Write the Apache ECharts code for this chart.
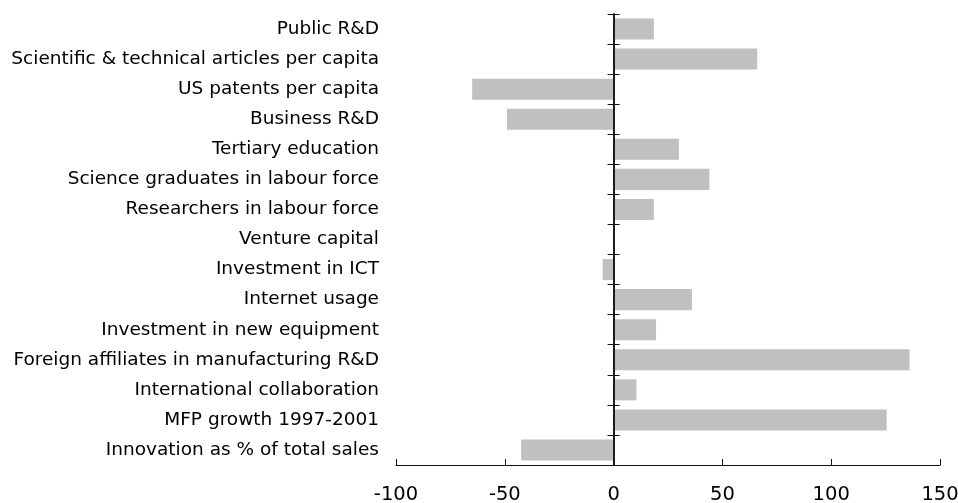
<!DOCTYPE html>
<html>
<head>
<meta charset="utf-8">
<script src="https://cdn.jsdelivr.net/npm/echarts@6/dist/echarts.min.js"></script>
<style>
  html, body { margin: 0; padding: 0; background: #fff; }
  #chart { width: 958px; height: 503px; }
</style>
</head>
<body>
<div id="chart"></div>
<script>
// indicators, top to bottom
var categories = [
  "Public R&D",
  "Scientific & technical articles per capita",
  "US patents per capita",
  "Business R&D",
  "Tertiary education",
  "Science graduates in labour force",
  "Researchers in labour force",
  "Venture capital",
  "Investment in ICT",
  "Internet usage",
  "Investment in new equipment",
  "Foreign affiliates in manufacturing R&D",
  "International collaboration",
  "MFP growth 1997-2001",
  "Innovation as % of total sales"
];
var values = [18.5, 66, -65, -49, 30, 44, 18.5, 0, -5, 36, 19.5, 136, 10.5, 125.5, -42.5];
var xTicks = [-100, -50, 0, 50, 100, 150];

var font = "DejaVu Sans";
var axisColor = "#111";
var gridBox = { left: 396, right: 18, top: 14, bottom: 38, outerBoundsMode: "none" };

var chart = echarts.init(document.getElementById("chart"));
chart.setOption({
  animation: false,
  // second grid is only there to put right-pointing ticks on the zero line
  grid: [
    Object.assign({}, gridBox),
    Object.assign({}, gridBox)
  ],
  xAxis: [
    {
      type: "value",
      gridIndex: 0,
      min: xTicks[0],
      max: xTicks[xTicks.length - 1],
      interval: 50,
      splitLine: { show: false },
      axisLine: { show: true, onZero: false, lineStyle: { color: axisColor, width: 1 } },
      axisTick: { show: true, inside: true, length: 6, lineStyle: { color: axisColor } },
      axisLabel: { color: "#000", fontSize: 19.5, fontFamily: font, margin: 20 }
    },
    {
      type: "value",
      gridIndex: 1,
      min: xTicks[0],
      max: xTicks[xTicks.length - 1],
      interval: 50,
      show: false
    }
  ],
  yAxis: [
    {
      type: "category",
      gridIndex: 0,
      z: 5,
      data: categories,
      inverse: true,
      position: "left",
      axisLine: { show: true, onZero: true, lineStyle: { color: axisColor, width: 1.5 } },
      axisTick: { show: true, length: 6, lineStyle: { color: axisColor } },
      axisLabel: {
        color: "#000",
        fontSize: 18.5,
        fontFamily: font,
        margin: 17
      }
    },
    {
      type: "category",
      gridIndex: 1,
      z: 5,
      data: categories,
      inverse: true,
      position: "right",
      axisLine: { show: true, onZero: true, lineStyle: { color: axisColor, width: 1.5 } },
      axisTick: { show: true, length: 6, lineStyle: { color: axisColor } },
      axisLabel: { show: false }
    }
  ],
  series: [
    {
      type: "bar",
      xAxisIndex: 0,
      yAxisIndex: 0,
      data: values,
      barCategoryGap: "30%",
      itemStyle: { color: "#c0c0c0" }
    }
  ]
});
</script>
</body>
</html>
